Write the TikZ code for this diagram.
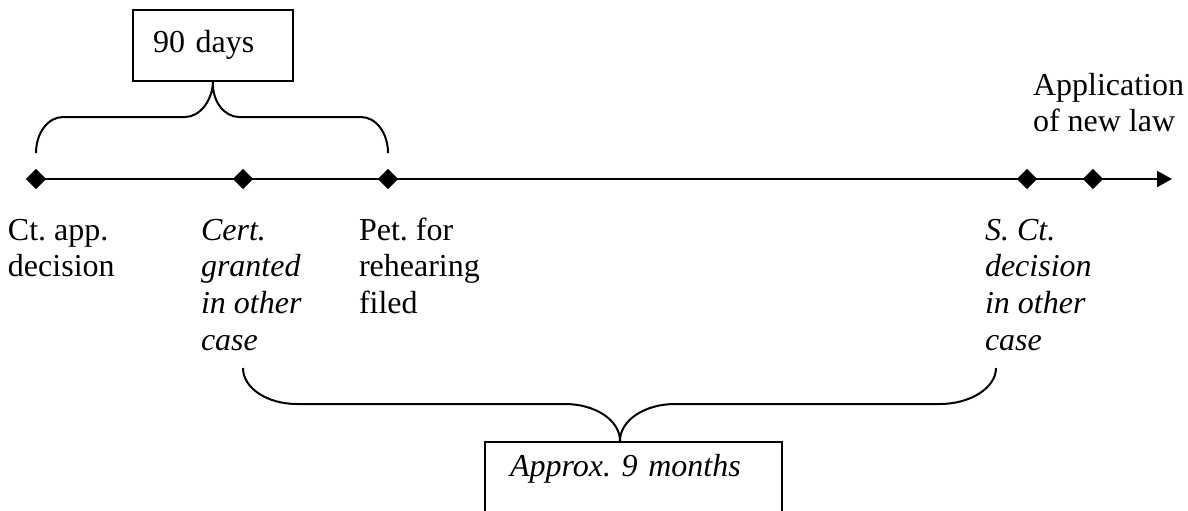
\documentclass[tikz,border=0pt]{standalone}
\usepackage{fontspec}
\setmainfont{Liberation Serif}
\frenchspacing
\usetikzlibrary{arrows.meta, shapes.geometric}
\newcommand{\tlfont}{\fontsize{16}{18.4}\selectfont\frenchspacing}
\tikzset{
  lbl/.style={anchor=base west, align=left, inner sep=0pt},
  ilbl/.style={lbl, font=\tlfont\itshape},
  tbox/.style={draw, anchor=north west, align=left, inner ysep=0pt}
}

\begin{document}
\begin{tikzpicture}[x=0.5pt, y=-0.5pt, line width=1pt, font=\tlfont]
\useasboundingbox (0,0) rectangle (1188,510);
\clip (0,0) rectangle (1188,510);

\begin{scope}[every node/.style={diamond, fill, inner sep=0pt, minimum size=10.5pt}]
\node (d1) at (36,179) {};
\node (d2) at (243,179) {};
\node (d3) at (388,179) {};
\node (d4) at (1027,179) {};
\node (d5) at (1093,179) {};
\end{scope}
\coordinate (end) at (1172,179);
\draw[-{Triangle[length=7.5pt, width=8pt]}] (d1.center) -- (end);

\node[lbl] (ca) at (7,276.8) {Ct. app.\\decision};
\node[ilbl] (cert) at (200,350.4) {Cert.\\granted\\in other\\case};
\node[lbl] (pet) at (358,313.6) {Pet. for\\rehearing\\filed};
\node[ilbl] (sct) at (984,350.4) {S. Ct.\\decision\\in other\\case};
\node[lbl] (app) at (1032,131.8) {Application\\of new law};

\node[tbox, inner xsep=10pt, text width=60pt, text height=21pt, text depth=14.5pt] (days) at (132,9) {90 days};
\node[tbox, inner xsep=12.5pt, text width=123.5pt, text height=17pt, text depth=40pt, font=\tlfont\itshape] (months) at (484,441) {Approx. 9 months};

\coordinate (t1) at (36,153);
\coordinate (t2) at (388,153);
\draw (t1) .. controls (36,133) and (48,117) .. (63,117) -- (185,117)
  .. controls (199,117) and (212,102) .. (days.south)
  .. controls (212,102) and (225,117) .. (239,117) -- (361,117)
  .. controls (376,117) and (388,133) .. (t2);

\coordinate (b1) at (243,368);
\coordinate (b2) at (996,368);
\coordinate (mtip) at (620,441);
\draw (b1) .. controls (243,388) and (267,404) .. (297,404) -- (565,404)
  .. controls (595,404) and (620,420) .. (mtip)
  .. controls (620,420) and (645,404) .. (675,404) -- (940,404)
  .. controls (970,404) and (996,388) .. (b2);

\end{tikzpicture}
\end{document}
